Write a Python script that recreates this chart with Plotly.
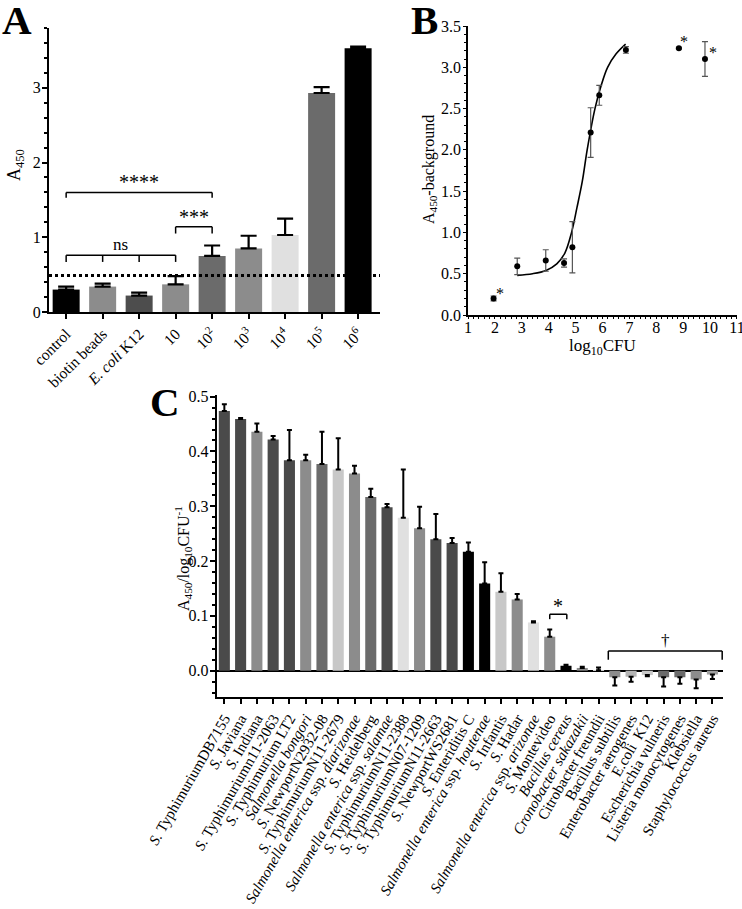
import plotly.graph_objects as go

# ---------------- Panel A data ----------------
a_categories = ["control", "biotin beads", "<i>E. coli</i> K12", "10",
                "10<sup>2</sup>", "10<sup>3</sup>", "10<sup>4</sup>",
                "10<sup>5</sup>", "10<sup>6</sup>"]
a_values = [0.30, 0.34, 0.22, 0.37, 0.75, 0.85, 1.03, 2.93, 3.53]
a_errors = [0.04, 0.04, 0.04, 0.11, 0.14, 0.17, 0.22, 0.08, 0.02]
a_colors = ["#000000", "#8c8c8c", "#4d4d4d", "#8c8c8c", "#6b6b6b",
            "#8c8c8c", "#e0e0e0", "#6b6b6b", "#000000"]
a_cutoff = 0.49

# ---------------- Panel B data ----------------
b_log_cfu = [1.95, 2.83, 3.89, 4.57, 4.88, 5.56, 5.88, 6.87, 8.84, 9.81]
b_signal = [0.20, 0.59, 0.66, 0.63, 0.82, 2.21, 2.66, 3.21, 3.23, 3.10]
b_errors = [0.03, 0.10, 0.13, 0.05, 0.31, 0.30, 0.12, 0.04, 0.01, 0.21]
b_fit_x = [2.83, 3.4, 3.9, 4.3, 4.6, 4.85, 5.05, 5.25, 5.43, 5.72, 5.95, 6.19, 6.5, 6.86]
b_fit_y = [0.48, 0.50, 0.54, 0.62, 0.75, 1.00, 1.30, 1.62, 2.00, 2.50, 2.78, 3.00, 3.16, 3.28]

# ---------------- Panel C data ----------------
c_strains = [
    "<i>S.</i> TyphimuriumDB7155", "<i>S.</i> Javiana", "<i>S.</i> Indiana",
    "<i>S.</i> Typhimuriumn11-2063", "<i>S.</i> Typhimurium LT2",
    "<i>Salmonella bongori</i>", "<i>S.</i> NewportN2932-08",
    "<i>S.</i> TyphimuriumN11-2679",
    "<i>Salmonella enterica</i> ssp. <i>diarizonae</i>", "<i>S.</i> Heidelberg",
    "<i>Salmonella enterica</i> ssp. <i>salamae</i>",
    "<i>S.</i> TyphimuriumN11-2388", "<i>S.</i> TyphimuriumN07-1209",
    "<i>S.</i> TyphimuriumN11-2663", "<i>S.</i> NewportWS2681",
    "<i>S.</i> Enteriditis C",
    "<i>Salmonella enterica</i> ssp. <i>houtenae</i>", "<i>S.</i> Infantis",
    "<i>S.</i> Hadar", "<i>Salmonella enterica</i> ssp. <i>arizonae</i>",
    "<i>S.</i> Montevideo", "<i>Bacillus cereus</i>",
    "<i>Cronobacter sakazakii</i>", "Citrobacter freundii", "Bacillus subtilis",
    "Enterobacter aerogenes", "E.coli  K12", "Escherichia vulneris",
    "Listeria monocytogenes", "Klebsiella", "Staphylococcus aureus"]
c_values = [0.474, 0.459, 0.436, 0.422, 0.384, 0.384, 0.377, 0.367, 0.360,
            0.317, 0.298, 0.279, 0.260, 0.240, 0.233, 0.217, 0.159, 0.144,
            0.130, 0.088, 0.062, 0.009, 0.005, 0.001, -0.012, -0.011, -0.008,
            -0.012, -0.012, -0.016, -0.007]
c_errors = [0.012, 0.002, 0.015, 0.006, 0.055, 0.010, 0.059, 0.057, 0.014,
            0.015, 0.006, 0.088, 0.039, 0.046, 0.009, 0.017, 0.039, 0.034,
            0.010, 0.002, 0.013, 0.002, 0.002, 0.005, 0.015, 0.009, 0.002,
            0.017, 0.012, 0.016, 0.008]
c_colors = ["#4a4a4a", "#4a4a4a", "#8c8c8c", "#4a4a4a", "#4a4a4a", "#8c8c8c",
            "#6b6b6b", "#c8c8c8", "#8c8c8c", "#6b6b6b", "#4a4a4a", "#e0e0e0",
            "#8c8c8c", "#4a4a4a", "#4a4a4a", "#000000", "#000000", "#c8c8c8",
            "#8c8c8c", "#e0e0e0", "#8c8c8c", "#000000", "#8c8c8c", "#c8c8c8",
            "#8c8c8c", "#b4b4b4", "#c8c8c8", "#6b6b6b", "#6b6b6b", "#8c8c8c",
            "#a0a0a0"]

FONT = "Liberation Serif"
W, H = 742, 909

def px_x(p):
    return p / W

def px_y(p):
    return 1 - p / H

fig = go.Figure()

a_pos = list(range(len(a_categories)))
c_pos = list(range(len(c_strains)))

# Panel A bars
fig.add_trace(go.Bar(
    x=a_pos, y=a_values, marker=dict(color=a_colors, line=dict(width=0)),
    width=0.74,
    error_y=dict(type="data", symmetric=False, array=a_errors,
                 arrayminus=[0] * len(a_errors), color="black", thickness=2.2, width=8),
    xaxis="x", yaxis="y"))

# Panel B
fig.add_trace(go.Scatter(
    x=b_fit_x, y=b_fit_y, mode="lines", line=dict(color="black", width=1.6, shape="spline"),
    xaxis="x2", yaxis="y2"))
fig.add_trace(go.Scatter(
    x=b_log_cfu, y=b_signal, mode="markers", marker=dict(color="black", size=6),
    error_y=dict(type="data", array=b_errors, color="#555555", thickness=1.2, width=3),
    xaxis="x2", yaxis="y2"))

# Panel C
c_plus = [e if v >= 0 else 0 for v, e in zip(c_values, c_errors)]
c_minus = [0 if v >= 0 else e for v, e in zip(c_values, c_errors)]
fig.add_trace(go.Bar(
    x=c_pos, y=c_values, marker=dict(color=c_colors, line=dict(width=0)),
    width=0.68,
    error_y=dict(type="data", symmetric=False, array=c_plus, arrayminus=c_minus,
                 color="black", thickness=2, width=2.5),
    xaxis="x3", yaxis="y3"))

axis_common = dict(showline=True, linecolor="black", ticks="outside", tickcolor="black",
                   showgrid=False, zeroline=False, automargin=False,
                   ticklabeloverflow="allow",
                   tickfont=dict(family=FONT, size=16, color="black"))

fig.update_layout(
    template="none",
    width=W, height=H, margin=dict(l=0, r=0, t=0, b=0, pad=0, autoexpand=False),
    paper_bgcolor="white", plot_bgcolor="white", showlegend=False,
    font=dict(family=FONT, color="black"),
    xaxis=dict(axis_common, domain=[px_x(49), px_x(380)], anchor="y",
               range=[-0.47, 8.6], linewidth=2, ticklen=5, tickwidth=1.5,
               tickmode="array", tickvals=a_pos, ticktext=a_categories,
               tickangle=-45, tickfont=dict(family=FONT, size=15.5, color="black")),
    yaxis=dict(axis_common, domain=[px_y(312), px_y(28)], anchor="x",
               range=[0, 3.8], tickvals=[0, 1, 2, 3], linewidth=2, ticklen=5,
               tickwidth=1.5, ticklabelstandoff=-2,
               minor=dict(dtick=0.2, ticks="outside", ticklen=3, tickcolor="black")),
    xaxis2=dict(axis_common, domain=[px_x(468), px_x(737)], anchor="y2",
                range=[0.999, 11.001], tickmode="linear", tick0=1, dtick=1, linewidth=1.5,
                ticklen=2.5, ticklabelstandoff=-5,
                minor=dict(dtick=0.2, ticks="outside", ticklen=2.5, tickcolor="black")),
    yaxis2=dict(axis_common, domain=[px_y(315), px_y(26)], anchor="x2",
                range=[0, 3.5], dtick=0.5, tickformat=".1f", linewidth=1.5, ticklen=3,
                ticklabelstandoff=-1,
                minor=dict(dtick=0.1, ticks="outside", ticklen=2.5, tickcolor="black")),
    xaxis3=dict(axis_common, domain=[px_x(216.7), px_x(723)], anchor="y3",
                range=[-0.47, 30.65], linewidth=2, ticklen=5, tickwidth=1.5,
                tickmode="array", tickvals=c_pos, ticktext=c_strains,
                tickangle=-60, tickfont=dict(family=FONT, size=15, color="black")),
    yaxis3=dict(axis_common, domain=[px_y(697), px_y(395)], anchor="x3",
                range=[-0.048, 0.503], tickvals=[0, 0.1, 0.2, 0.3, 0.4, 0.5],
                tickformat=".1f", linewidth=2, ticklen=5, tickwidth=1.5,
                ticklabelstandoff=-2,
                zeroline=True, zerolinecolor="black", zerolinewidth=1.6,
                minor=dict(dtick=0.02, ticks="outside", ticklen=3, tickcolor="black")),
)

shapes = []
# cutoff dotted line in A
shapes.append(dict(type="line", xref="x domain", yref="y", x0=0, x1=1,
                   y0=a_cutoff, y1=a_cutoff, line=dict(color="black", width=3, dash="dot")))

def bracket(xref, yref, x0, x1, y, ydrop, ticks=None, width=1.5):
    out = [dict(type="line", xref=xref, yref=yref, x0=x0, x1=x1, y0=y, y1=y,
                line=dict(color="black", width=width))]
    for xt in (ticks if ticks is not None else [x0, x1]):
        out.append(dict(type="line", xref=xref, yref=yref, x0=xt, x1=xt, y0=y,
                        y1=y - ydrop, line=dict(color="black", width=width)))
    return out

shapes += bracket("x", "y", 0, 3, 0.76, 0.09, ticks=[0, 1, 2, 3])
shapes += bracket("x", "y", 3, 4, 1.14, 0.09)
shapes += bracket("x", "y", 0, 4, 1.60, 0.07)
shapes += bracket("x3", "y3", 20, 21.05, 0.103, 0.009)
shapes += bracket("x3", "y3", 23.6, 30.6, 0.036, 0.016)
fig.update_layout(shapes=shapes)

ann = []
def txt(text, x, y, xref, yref, size, **kw):
    ann.append(dict(text=text, x=x, y=y, xref=xref, yref=yref, showarrow=False,
                    xanchor="center", yanchor="middle",
                    font=dict(family=FONT, size=size, color="black"), **kw))

# Panel letters
txt("<b>A</b>", px_x(17), px_y(20), "paper", "paper", 41)
txt("<b>B</b>", px_x(424), px_y(20), "paper", "paper", 41)
txt("<b>C</b>", px_x(165), px_y(402), "paper", "paper", 41)

# y titles
txt("A<sub>450</sub>", px_x(16), px_y(165), "paper", "paper", 18, textangle=-90)
txt("A<sub>450</sub>-background", px_x(430), px_y(170), "paper", "paper", 16, textangle=-90)
txt("A<sub>450</sub>/log<sub>10</sub>CFU<sup>-1</sup>", px_x(183), px_y(559), "paper", "paper", 16,
    textangle=-90)
# x title B
txt("log<sub>10</sub>CFU", px_x(602), px_y(347), "paper", "paper", 17)

# significance labels A
txt("ns", 1.5, 0.90, "x", "y", 17)
txt("***", 3.5, 1.27, "x", "y", 20)
txt("****", 2.0, 1.74, "x", "y", 20)
# B asterisks
txt("*", 2.2, 0.26, "x2", "y2", 16)
txt("*", 9.02, 3.31, "x2", "y2", 16)
txt("*", 10.1, 3.18, "x2", "y2", 16)
# C labels
txt("*", 20.5, 0.118, "x3", "y3", 20)
txt("†", 27.1, 0.056, "x3", "y3", 17)

fig.update_layout(annotations=ann)
fig.write_html("out.html", config={"displayModeBar": False},
               post_script="document.body.style.margin='0px';document.body.style.overflow='hidden';")
